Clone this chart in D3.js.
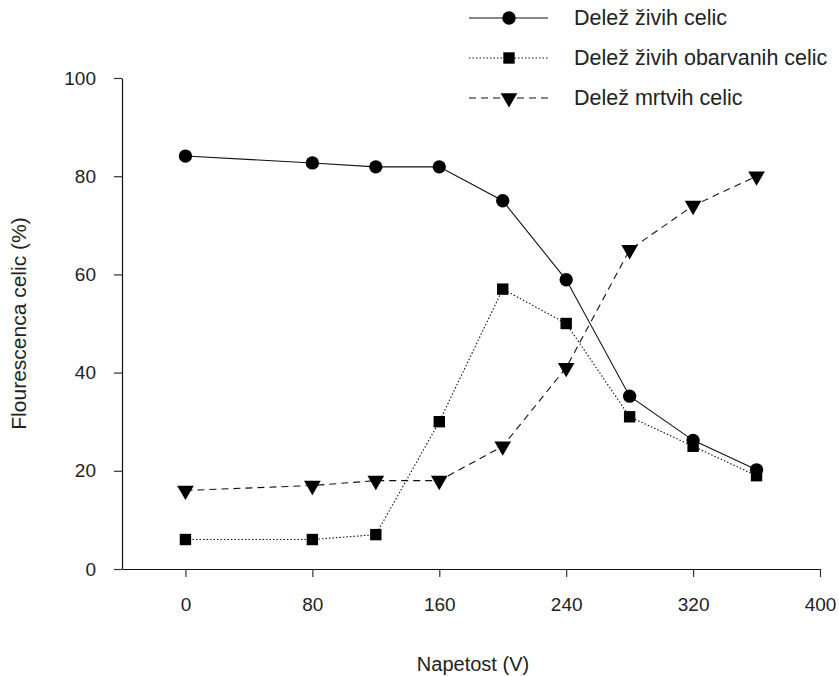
<!DOCTYPE html>
<html>
<head>
<meta charset="utf-8">
<script src="https://cdn.jsdelivr.net/npm/d3@7"></script>
<style>
  body { margin: 0; background: #fff; }
  svg text { font-family: "Liberation Sans", Arial, Helvetica, sans-serif; fill: #222; }
</style>
</head>
<body>
<div id="chart"></div>
<script>
const voltages = [0, 80, 120, 160, 200, 240, 280, 320, 360];
const zivih = [84.1, 82.7, 81.9, 81.9, 75, 58.9, 35.2, 26.2, 20.2];
const obarvanih = [6, 6, 7, 30, 57, 50, 31, 25, 19];
const mrtvih = [16, 17, 18, 18, 25, 41, 65, 74, 80];
const xTicks = [0, 80, 160, 240, 320, 400];
const yTicks = [0, 20, 40, 60, 80, 100];
const seriesNames = ["Delež živih celic", "Delež živih obarvanih celic", "Delež mrtvih celic"];

const width = 839, height = 676;
const margin = {top: 78, right: 19, bottom: 107, left: 122};
const innerWidth = width - margin.left - margin.right;
const innerHeight = height - margin.top - margin.bottom;

const svg = d3.select("#chart")
    .append("svg")
    .attr("width", width)
    .attr("height", height);

const g = svg.append("g")
    .attr("transform", `translate(${margin.left},${margin.top})`);

const x = d3.scaleLinear().domain([-40, 400]).range([0, innerWidth]);
const y = d3.scaleLinear().domain([0, 100]).range([innerHeight, 0]);

// axes
const xAxis = g.append("g")
    .attr("transform", `translate(0,${innerHeight})`)
    .call(d3.axisBottom(x).tickValues(xTicks).tickSize(8).tickPadding(21).tickSizeOuter(0));
const yAxis = g.append("g")
    .call(d3.axisLeft(y).tickValues(yTicks).tickSize(8).tickPadding(18).tickSizeOuter(0));

[xAxis, yAxis].forEach(a => {
    a.select(".domain").attr("stroke", "#111").attr("stroke-width", 1.2);
    a.selectAll(".tick line").attr("stroke", "#333").attr("stroke-width", 1.2);
    a.selectAll(".tick text").style("font-size", "19px").attr("fill", "#222")
        .style("font-family", '"Liberation Sans", Arial, sans-serif');
});

// axis titles
g.append("text")
    .attr("x", innerWidth / 2 + 2)
    .attr("y", innerHeight + 102)
    .style("text-anchor", "middle")
    .style("font-size", "20px")
    .text("Napetost (V)");

g.append("text")
    .attr("transform", "rotate(-90)")
    .attr("x", -y(50))
    .attr("y", -margin.left + 26)
    .style("text-anchor", "middle")
    .style("font-size", "21px")
    .text("Flourescenca celic (%)");

const series = [
    {name: seriesNames[0], values: zivih, dash: null, symbol: d3.symbolCircle, size: 140},
    {name: seriesNames[1], values: obarvanih, dash: "1.5,2", symbol: d3.symbolSquare, size: 130},
    {name: seriesNames[2], values: mrtvih, dash: "7,5", symbol: d3.symbolTriangle, size: 120}
];

const line = d3.line()
    .x(d => x(d[0]))
    .y(d => y(d[1]));

series.forEach(s => {
    const pts = voltages.map((v, i) => [v, s.values[i]]);
    g.append("path")
        .datum(pts)
        .attr("d", line)
        .attr("fill", "none")
        .attr("stroke", "#111")
        .attr("stroke-width", 1.1)
        .attr("stroke-dasharray", s.dash);

    g.selectAll(null)
        .data(pts)
        .join("path")
        .attr("d", d3.symbol().type(s.symbol).size(s.size))
        .attr("transform", d => `translate(${x(d[0])},${y(d[1])})` + (s.symbol === d3.symbolTriangle ? " rotate(180)" : ""))
        .attr("fill", "#000");
});

// legend
const legend = svg.append("g").attr("transform", "translate(469,18)");
series.forEach((s, i) => {
    const row = legend.append("g").attr("transform", `translate(0,${i * 40})`);
    row.append("line")
        .attr("x1", 0).attr("x2", 79)
        .attr("y1", 0).attr("y2", 0)
        .attr("stroke", "#111")
        .attr("stroke-width", 1.1)
        .attr("stroke-dasharray", s.dash);
    row.append("path")
        .attr("d", d3.symbol().type(s.symbol).size(s.size))
        .attr("transform", "translate(40,0)" + (s.symbol === d3.symbolTriangle ? " rotate(180)" : ""))
        .attr("fill", "#000");
    row.append("text")
        .attr("x", 105)
        .attr("y", 7)
        .style("font-size", "21.5px")
        .text(s.name);
});
</script>
</body>
</html>
